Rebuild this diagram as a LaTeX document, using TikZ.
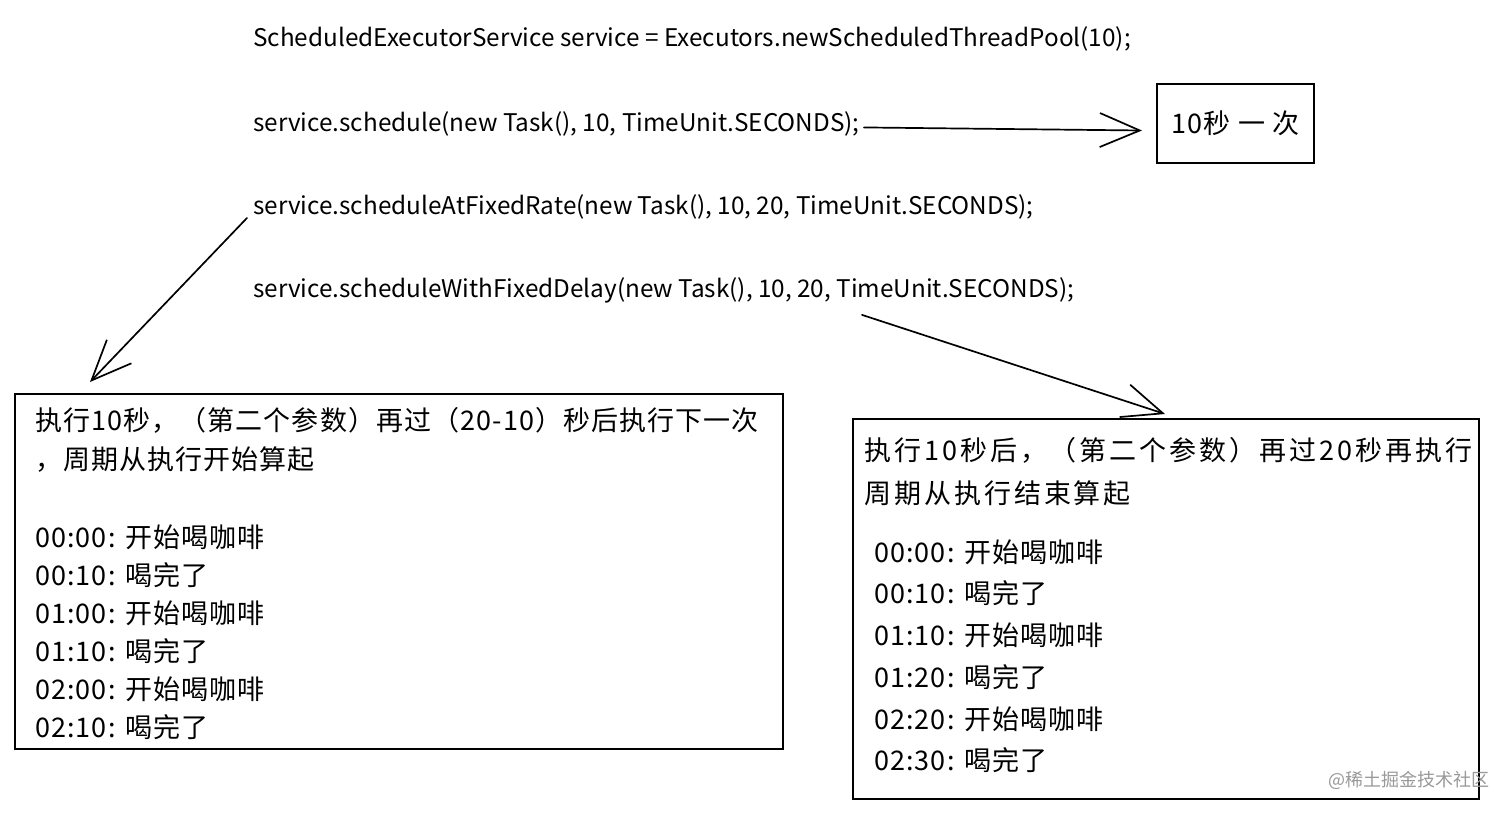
\documentclass[tikz,border=0pt]{standalone}
\usepackage{fontspec}
\setmainfont{Noto Sans CJK SC}
\newfontfamily\cjkls{Noto Sans CJK SC}[LetterSpace=4]
\newfontfamily\cjkwide{Noto Sans CJK SC}[LetterSpace=11]
\usetikzlibrary{arrows.meta}
\begin{document}
\begin{tikzpicture}[x=1pt,y=-1pt,
  code/.style={anchor=base west, inner sep=0pt, font=\fontsize{24.3}{30}\selectfont},
  txt/.style={anchor=base west, inner sep=0pt, font=\cjkls\fontsize{27}{32}\selectfont},
  bx/.style={draw, line width=2pt, inner sep=0pt},
  arr/.style={line width=1.7pt, line cap=round, -{Straight Barb[length=40pt,width=34pt,line width=1.7pt]}}]
\useasboundingbox[fill=white] (0,0) rectangle (1512,814);
% code lines
\node[code] (l1) at (253,46) {ScheduledExecutorService service = Executors.newScheduledThreadPool(10);};
\node[code] (l2) at (253,131) {service.schedule(new Task(), 10, TimeUnit.SECONDS);};
\node[code] (l3) at (253,214) {service.scheduleAtFixedRate(new Task(), 10, 20, TimeUnit.SECONDS);};
\node[code] (l4) at (253,297) {service.scheduleWithFixedDelay(new Task(), 10, 20, TimeUnit.SECONDS);};
% small box
\node[bx, minimum width=157pt, minimum height=79pt, font=\cjkls\fontsize{27}{32}\selectfont] (b1) at (1235.5,123.5) {10秒 一 次};
% left box
\node[bx, anchor=north west, minimum width=768pt, minimum height=355pt] (lb) at (14,393) {};
\node[txt] (lh1) at (35,430) {执行10秒，（第二个参数）再过（20-10）秒后执行下一次};
\node[txt] (lh2) at (35,469) {，周期从执行开始算起};
\node[txt] (lt1) at (35,547) {00:00: 开始喝咖啡};
\node[txt] (lt2) at (35,585) {00:10: 喝完了};
\node[txt] (lt3) at (35,623) {01:00: 开始喝咖啡};
\node[txt] (lt4) at (35,661) {01:10: 喝完了};
\node[txt] (lt5) at (35,699) {02:00: 开始喝咖啡};
\node[txt] (lt6) at (35,737) {02:10: 喝完了};
% right box
\node[bx, anchor=north west, minimum width=626pt, minimum height=380pt] (rb) at (852,418) {};
\node[txt, font=\cjkwide\fontsize{27}{32}\selectfont] (rh1) at (864,460) {执行10秒后，（第二个参数）再过20秒再执行};
\node[txt, font=\cjkwide\fontsize{27}{32}\selectfont] (rh2) at (864,503) {周期从执行结束算起};
\node[txt] (rt1) at (874,562) {00:00: 开始喝咖啡};
\node[txt] (rt2) at (874,603) {00:10: 喝完了};
\node[txt] (rt3) at (874,645) {01:10: 开始喝咖啡};
\node[txt] (rt4) at (874,687) {01:20: 喝完了};
\node[txt] (rt5) at (874,729) {02:20: 开始喝咖啡};
\node[txt] (rt6) at (874,770) {02:30: 喝完了};
\node[anchor=east, inner sep=0pt, text=black!40, font=\fontsize{18}{20}\selectfont] (wm) at (1490,780) {@稀土掘金技术社区};
% arrows
\draw[arr] ([shift={(4,4)}]l2.east) -- ([shift={(-14,7)}]b1.west);
\draw[arr] ([shift={(-6,-1)}]l3.south west) -- ([shift={(76,-11)}]lb.north west);
\draw[arr] ([shift={(609,12)}]l4.south west) -- ([shift={(313,-4)}]rb.north west);
\end{tikzpicture}
\end{document}
